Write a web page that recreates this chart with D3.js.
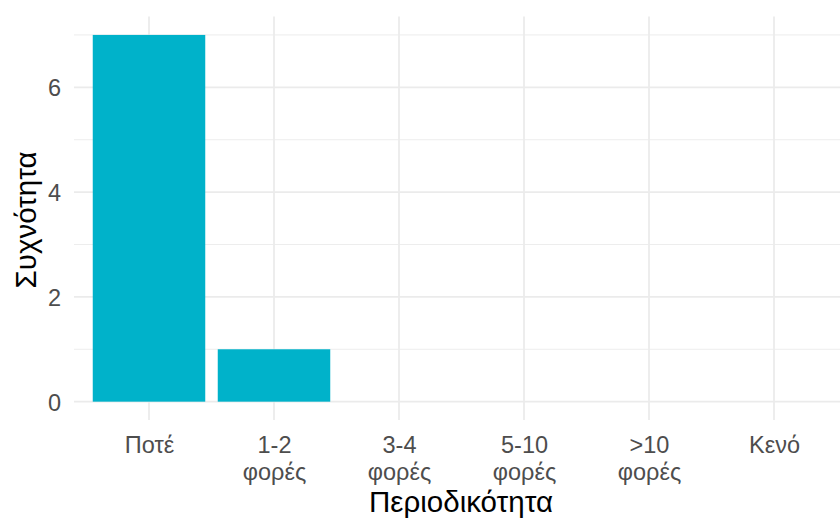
<!DOCTYPE html>
<html><head><meta charset="utf-8">
<script src="https://cdn.jsdelivr.net/npm/d3@7/dist/d3.min.js"></script>
<style>body{margin:0;background:#fff}svg{display:block}</style>
</head><body>
<svg id="c" width="840" height="518"></svg>
<script>
const categories = [["Ποτέ"], ["1-2", "φορές"], ["3-4", "φορές"], ["5-10", "φορές"], [">10", "φορές"], ["Κενό"]];
const values = [7, 1, 0, 0, 0, 0];
const yTicks = [0, 2, 4, 6];
const yMinor = [1, 3, 5, 7];
const xTitle = "Περιοδικότητα";
const yTitle = "Συχνότητα";

(function () {
const svg = d3.select("#c");
const font = "Liberation Sans, Arial, sans-serif";
const pLeft = 74, pRight = 849, pTop = 16.6, pBottom = 420;
const keys = categories.map((d, i) => i);
const xc = d3.scalePoint().domain(keys).range([pLeft + 75, pRight - 75]);
const y = d3.scaleLinear().domain([-0.35, 7.35]).range([pBottom, pTop]);

const g = svg.append("g");
g.selectAll(".hmin").data(yMinor).join("line")
  .attr("x1", pLeft).attr("x2", 840).attr("y1", d => y(d)).attr("y2", d => y(d))
  .attr("stroke", "#ebebeb").attr("stroke-width", 0.9);
g.selectAll(".hmaj").data(yTicks).join("line")
  .attr("x1", pLeft).attr("x2", 840).attr("y1", d => y(d)).attr("y2", d => y(d))
  .attr("stroke", "#ebebeb").attr("stroke-width", 1.8);
g.selectAll(".vmaj").data(keys).join("line")
  .attr("x1", d => xc(d)).attr("x2", d => xc(d)).attr("y1", pTop).attr("y2", pBottom)
  .attr("stroke", "#ebebeb").attr("stroke-width", 1.8);

const bw = xc.step() * 0.9;
g.selectAll(".bar").data(values).join("rect")
  .attr("x", (d, i) => xc(i) - bw / 2).attr("width", bw)
  .attr("y", d => y(d)).attr("height", d => y(0) - y(d))
  .attr("fill", "#00B2CA");

const ya = d3.axisLeft(y).tickValues(yTicks).tickSize(0).tickPadding(0).tickFormat(d3.format("d"));
const yg = svg.append("g").attr("transform", `translate(${pLeft - 13},0)`).call(ya);
yg.select(".domain").remove();
yg.selectAll("text").attr("font-family", font).attr("font-size", 23.5).attr("fill", "#4d4d4d").attr("dy", "0.36em");

const xa = d3.axisBottom(xc).tickSize(0).tickFormat(() => "");
const xg = svg.append("g").attr("transform", `translate(0,${pBottom})`).call(xa);
xg.select(".domain").remove();
xg.selectAll(".tick").each(function(d) {
  const t = d3.select(this).select("text").attr("font-family", font).attr("font-size", 23.5)
    .attr("fill", "#4d4d4d").attr("text-anchor", "middle").attr("y", 0).attr("dy", null);
  t.text(null);
  categories[d].forEach((line, j) => {
    t.append("tspan").attr("x", 0).attr("y", 33 + j * 27).text(line);
  });
});

svg.append("text").attr("x", 461).attr("y", 512).attr("text-anchor", "middle")
  .attr("font-family", font).attr("font-size", 29.5).attr("fill", "#000").text(xTitle);
svg.append("text").attr("transform", `translate(36,220) rotate(-90)`).attr("text-anchor", "middle")
  .attr("font-family", font).attr("font-size", 29.5).attr("fill", "#000").text(yTitle);
})();
</script>
</body></html>
